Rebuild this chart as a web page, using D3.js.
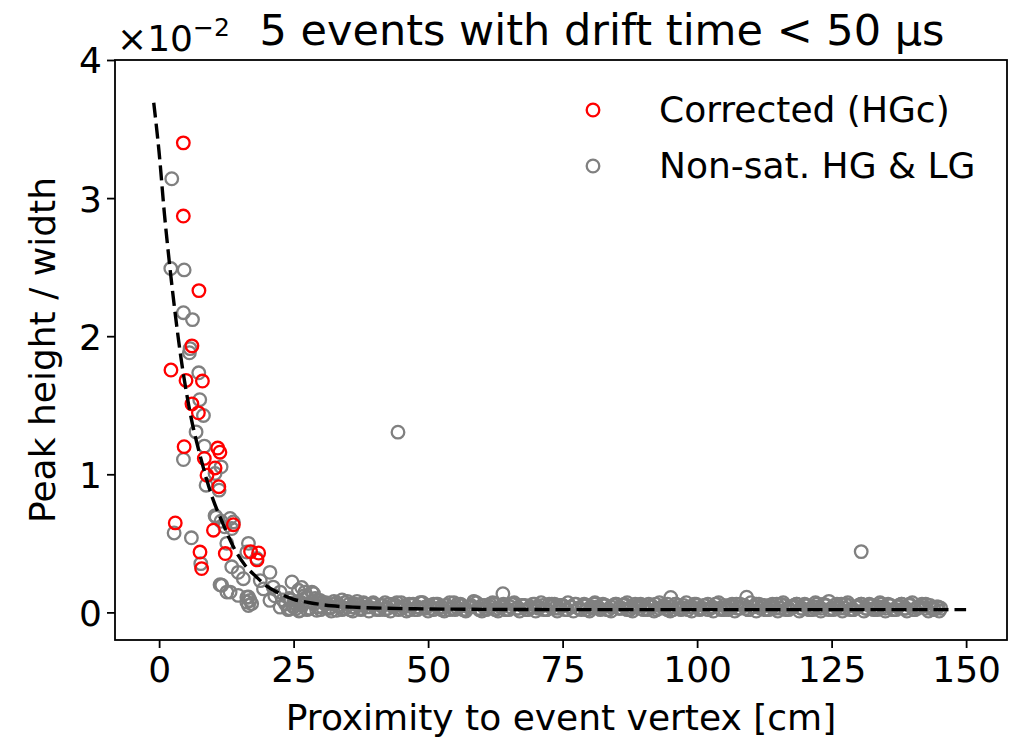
<!DOCTYPE html>
<html>
<head>
<meta charset="utf-8">
<script src="https://cdn.jsdelivr.net/npm/d3@7/dist/d3.min.js"></script>
<style>
  html, body { margin: 0; padding: 0; background: #fff; }
  svg { display: block; }
  text { font-family: "DejaVu Sans", sans-serif; fill: #000; }
</style>
</head>
<body>
<svg id="chart" width="1025" height="740"></svg>
<script>
// ---- data (y values in units of 1e-2) ----
const titleText = "5 events with drift time < 50 \u03bcs";
const xLabel = "Proximity to event vertex [cm]";
const yLabel = "Peak height / width";
const seriesNames = ["Corrected (HGc)", "Non-sat. HG & LG"];
const xTicks = [0, 25, 50, 75, 100, 125, 150];
const yTicks = [0, 1, 2, 3, 4];

const redX = [4.5, 4.5, 7.4, 6.1, 2.2, 8.05, 5.0, 6.1, 7.3, 4.65, 10.9, 11.3, 8.4, 10.4, 8.9, 11.1, 3.0, 10.1, 13.8, 7.6, 7.9, 12.3, 17.0, 18.2, 18.5];
const redY = [3.40, 2.87, 2.33, 1.93, 1.755, 1.675, 1.68, 1.51, 1.445, 1.20, 1.19, 1.16, 1.115, 1.046, 0.993, 0.91, 0.648, 0.595, 0.635, 0.437, 0.317, 0.426, 0.44, 0.38, 0.43];

const grayX = [2.35, 2.17, 4.65, 4.52, 6.2, 5.76, 5.63, 7.37, 7.55, 8.24, 6.87, 8.42, 4.52, 11.52, 10.4, 8.73, 11.15,
  2.79, 6.0, 10.4, 10.6, 11.5, 12.2, 13.2, 13.8, 13.5, 12.58, 16.6, 16.3, 18.15, 13.5, 14.7, 15.65, 7.75,
  11.33, 11.65, 12.6, 13.2, 14.7, 16.6, 16.3, 16.9, 16.6, 17.2, 16.3,
  20.6, 18.8, 19.4, 21.2, 22.5, 24.7, 26.5, 25.9, 27.1, 28.4, 28.7, 29.9, 20.6, 22.5, 24.3, 26.2, 29.3, 31.8, 33.0, 21.5, 23.0,
  44.4, 63.9, 95.1, 109.2, 130.5,
  23.5, 24.2, 25.0, 25.8, 26.6, 27.4, 28.0, 28.8, 29.5, 30.3, 31.0, 31.7, 32.5, 33.2, 34.0, 34.6, 35.3, 36.1, 36.8, 37.5,
  38.3, 39.0, 39.8, 40.5, 41.2, 42.0, 42.7, 43.5, 44.2, 45.0, 45.7, 46.5, 47.2, 48.0, 48.8, 49.5, 50.3, 51.0, 51.8, 52.5,
  53.3, 54.0, 54.8, 55.5, 56.3, 57.0, 57.8, 58.5, 59.3, 60.0, 60.8, 61.5, 62.3, 63.0, 63.8, 64.5, 65.3, 66.0, 66.8, 67.5,
  68.3, 69.0, 69.8, 70.5, 71.3, 72.0, 72.8, 73.5, 74.3, 75.0, 75.8, 76.5, 77.3, 78.0, 78.8, 79.5, 80.3, 81.0, 81.8, 82.5,
  83.3, 84.0, 84.8, 85.5, 86.3, 87.0, 87.8, 88.5, 89.3, 90.0, 90.8, 91.5, 92.3, 93.0, 93.8, 94.5, 95.3, 96.0, 96.8, 97.5,
  98.3, 99.0, 99.8, 100.5, 101.3, 102.0, 102.8, 103.5, 104.3, 105.0, 105.8, 106.5, 107.3, 108.0, 108.8, 109.5, 110.3, 111.0, 111.8, 112.5,
  113.3, 114.0, 114.8, 115.5, 116.3, 117.0, 117.8, 118.5, 119.3, 120.0, 120.8, 121.5, 122.3, 123.0, 123.8, 124.5, 125.3, 126.0, 126.8, 127.5,
  128.3, 129.0, 129.8, 130.5, 131.3, 132.0, 132.8, 133.5, 134.3, 135.0, 135.8, 136.5, 137.3, 138.0, 138.8, 139.5, 140.3, 141.0, 141.8, 142.5,
  143.3, 144.0, 144.8, 145.3];
const grayY = [3.14, 2.49, 2.48, 2.17, 2.12, 1.91, 1.88, 1.735, 1.54, 1.426, 1.307, 1.204, 1.107, 1.054, 1.006, 0.921, 0.885,
  0.575, 0.54, 0.70, 0.69, 0.66, 0.62, 0.68, 0.655, 0.607, 0.50, 0.50, 0.437, 0.39, 0.33, 0.29, 0.244, 0.353,
  0.20, 0.196, 0.147, 0.147, 0.123, 0.111, 0.11, 0.087, 0.05, 0.063, 0.075,
  0.29, 0.23, 0.17, 0.183, 0.147, 0.22, 0.18, 0.16, 0.147, 0.147, 0.136, 0.087, 0.087, 0.038, 0.027, 0.015, 0.015, 0.038, 0.015, 0.12, 0.09,
  1.305, 0.135, 0.108, 0.11, 0.44,
  0.06, 0.10, 0.04, 0.08, 0.05, 0.11, 0.03, 0.06, 0.09, 0.04, 0.07, 0.03, 0.08, 0.05, 0.09, 0.03, 0.06, 0.04, 0.08, 0.02,
  0.06, 0.04, 0.07, 0.03, 0.05, 0.02, 0.06, 0.04, 0.07, 0.03, 0.05, 0.02, 0.06, 0.04, 0.07, 0.03, 0.05, 0.02, 0.06, 0.04,
  0.05, 0.02, 0.07, 0.03, 0.05, 0.02, 0.04, 0.075, 0.03, 0.05, 0.02, 0.04, 0.06, 0.03, 0.05, 0.02, 0.04, 0.06, 0.03, 0.05,
  0.02, 0.04, 0.06, 0.03, 0.05, 0.02, 0.04, 0.06, 0.03, 0.05, 0.02, 0.04, 0.06, 0.03, 0.05, 0.02, 0.04, 0.06, 0.03, 0.05,
  0.02, 0.04, 0.06, 0.03, 0.05, 0.02, 0.04, 0.06, 0.03, 0.05, 0.02, 0.04, 0.06, 0.03, 0.05, 0.02, 0.04, 0.06, 0.03, 0.05,
  0.02, 0.04, 0.06, 0.03, 0.05, 0.02, 0.04, 0.06, 0.03, 0.05, 0.02, 0.04, 0.06, 0.03, 0.05, 0.02, 0.04, 0.06, 0.03, 0.05,
  0.02, 0.04, 0.06, 0.03, 0.05, 0.02, 0.04, 0.06, 0.03, 0.05, 0.02, 0.04, 0.06, 0.03, 0.05, 0.08, 0.02, 0.04, 0.06, 0.03,
  0.05, 0.02, 0.04, 0.06, 0.03, 0.05, 0.02, 0.04, 0.06, 0.03, 0.05, 0.02, 0.04, 0.06, 0.03, 0.05, 0.02, 0.04, 0.06, 0.03,
  0.05, 0.02, 0.04, 0.03];

// second and third staggered rows of the dense low band
const band2X = [24, 25, 26, 27, 28, 29, 30, 31, 32, 33, 34, 35, 36, 37, 38, 39, 40, 41, 42, 43,
  44, 45, 46, 47, 48, 49, 50, 51, 52, 53, 54, 55, 56, 57, 58, 59, 60, 61, 62, 63,
  64, 65, 66, 67, 68, 69, 70, 71, 72, 73, 74, 75, 76, 77, 78, 79, 80, 81, 82, 83,
  84, 85, 86, 87, 88, 89, 90, 91, 92, 93, 94, 95, 96, 97, 98, 99, 100, 101, 102, 103,
  104, 105, 106, 107, 108, 109, 110, 111, 112, 113, 114, 115, 116, 117, 118, 119, 120, 121, 122, 123,
  124, 125, 126, 127, 128, 129, 130, 131, 132, 133, 134, 135, 136, 137, 138, 139, 140, 141, 142, 143,
  144, 145];
const band2Y = [0.02, 0.07, 0.01, 0.12, 0.03, 0.10, 0.02, 0.06, 0.01, 0.07, 0.02, 0.08, 0.01, 0.05, 0.07, 0.01, 0.06, 0.02, 0.07, 0.01,
  0.05, 0.07, 0.01, 0.05, 0.02, 0.07, 0.01, 0.06, 0.03, 0.01, 0.07, 0.02, 0.06, 0.01, 0.05, 0.07, 0.01, 0.03, 0.07, 0.01,
  0.06, 0.02, 0.07, 0.01, 0.05, 0.03, 0.01, 0.07, 0.02, 0.06, 0.01, 0.05, 0.07, 0.01, 0.03, 0.06, 0.01, 0.07, 0.02, 0.05,
  0.01, 0.06, 0.03, 0.07, 0.01, 0.05, 0.02, 0.06, 0.01, 0.07, 0.03, 0.01, 0.06, 0.02, 0.07, 0.01, 0.05, 0.03, 0.06, 0.01,
  0.07, 0.02, 0.05, 0.01, 0.06, 0.03, 0.07, 0.01, 0.05, 0.02, 0.06, 0.01, 0.07, 0.03, 0.05, 0.01, 0.06, 0.02, 0.07, 0.01,
  0.05, 0.03, 0.06, 0.01, 0.07, 0.02, 0.05, 0.01, 0.06, 0.03, 0.07, 0.01, 0.05, 0.02, 0.06, 0.01, 0.07, 0.03, 0.05, 0.01,
  0.03, 0.01];
const band3X = [24.5, 25.5, 26.5, 27.5, 28.5, 29.5, 30.5, 31.5, 32.5, 33.5, 34.5, 35.5, 36.5, 37.5, 38.5, 39.5, 40.5, 41.5, 42.5, 43.5,
  44.5, 45.5, 46.5, 47.5, 48.5, 49.5, 50.5, 51.5, 52.5, 53.5, 54.5, 55.5, 56.5, 57.5, 58.5, 59.5, 60.5, 61.5, 62.5, 63.5,
  64.5, 65.5, 66.5, 67.5, 68.5, 69.5, 70.5, 71.5, 72.5, 73.5, 74.5, 75.5, 76.5, 77.5, 78.5, 79.5, 80.5, 81.5, 82.5, 83.5,
  84.5, 85.5, 86.5, 87.5, 88.5, 89.5, 90.5, 91.5, 92.5, 93.5, 94.5, 95.5, 96.5, 97.5, 98.5, 99.5, 100.5, 101.5, 102.5, 103.5,
  104.5, 105.5, 106.5, 107.5, 108.5, 109.5, 110.5, 111.5, 112.5, 113.5, 114.5, 115.5, 116.5, 117.5, 118.5, 119.5, 120.5, 121.5, 122.5, 123.5,
  124.5, 125.5, 126.5, 127.5, 128.5, 129.5, 130.5, 131.5, 132.5, 133.5, 134.5, 135.5, 136.5, 137.5, 138.5, 139.5, 140.5, 141.5, 142.5, 143.5,
  144.5];
const band3Y = [0.09, 0.03, 0.07, 0.02, 0.08, 0.04, 0.07, 0.03, 0.06, 0.04, 0.07, 0.02, 0.06, 0.03, 0.04, 0.06, 0.02, 0.05, 0.03, 0.06,
  0.02, 0.04, 0.06, 0.02, 0.07, 0.04, 0.03, 0.06, 0.02, 0.05, 0.03, 0.06, 0.02, 0.04, 0.08, 0.02, 0.05, 0.06, 0.02, 0.04,
  0.02, 0.06, 0.03, 0.05, 0.02, 0.06, 0.04, 0.02, 0.06, 0.03, 0.05, 0.02, 0.04, 0.06, 0.02, 0.05, 0.03, 0.04, 0.06, 0.02,
  0.05, 0.03, 0.06, 0.02, 0.04, 0.06, 0.03, 0.05, 0.02, 0.04, 0.06, 0.02, 0.05, 0.03, 0.04, 0.06, 0.02, 0.05, 0.03, 0.06,
  0.02, 0.04, 0.06, 0.03, 0.05, 0.02, 0.04, 0.06, 0.02, 0.05, 0.03, 0.06, 0.02, 0.04, 0.06, 0.03, 0.05, 0.02, 0.04, 0.06,
  0.02, 0.05, 0.03, 0.06, 0.02, 0.04, 0.06, 0.03, 0.05, 0.02, 0.04, 0.06, 0.02, 0.05, 0.03, 0.06, 0.02, 0.04, 0.06, 0.03,
  0.04];

const fitX = [-1, 0, 1, 2, 3, 4, 5, 6, 7, 8, 9, 10, 11, 12, 13, 14, 16, 18, 20, 22, 25, 28, 32, 36, 40, 50, 60, 80, 100, 125, 150];
const fitY = [3.69, 3.33, 2.88, 2.50, 2.16, 1.86, 1.61, 1.40, 1.23, 1.08, 0.94, 0.82, 0.72, 0.63, 0.54, 0.46, 0.34, 0.26, 0.19, 0.145, 0.095, 0.07, 0.048, 0.038, 0.032, 0.025, 0.022, 0.02, 0.02, 0.02, 0.02];

// ---- layout ----
const svg = d3.select("#chart");
const L = 115, R = 1007, T = 60, B = 640;
const x = d3.scaleLinear().domain([-8.2, 157.6]).range([L, R]);
const y = d3.scaleLinear().domain([-0.2, 4.0]).range([B, T]);
const fs = 36;
const mr = 6.3, mw = 2.3;

svg.append("rect").attr("width", 1025).attr("height", 740).attr("fill", "#fff");

svg.append("clipPath").attr("id", "clip")
  .append("rect").attr("x", L).attr("y", T).attr("width", R - L).attr("height", B - T);

const plot = svg.append("g").attr("clip-path", "url(#clip)");

const grayPts = grayX.map((v, i) => [v, grayY[i]])
  .concat(band2X.map((v, i) => [v, band2Y[i]]))
  .concat(band3X.map((v, i) => [v, band3Y[i]]));
const redPts = redX.map((v, i) => [v, redY[i]]);

plot.selectAll("circle.gray").data(grayPts).enter().append("circle")
  .attr("class", "gray")
  .attr("cx", d => x(d[0])).attr("cy", d => y(d[1])).attr("r", mr)
  .attr("fill", "none").attr("stroke", "#808080").attr("stroke-width", mw);

plot.selectAll("circle.red").data(redPts).enter().append("circle")
  .attr("class", "red")
  .attr("cx", d => x(d[0])).attr("cy", d => y(d[1])).attr("r", mr)
  .attr("fill", "none").attr("stroke", "#ff0000").attr("stroke-width", mw);

const line = d3.line().x(d => x(d[0])).y(d => y(d[1])).curve(d3.curveMonotoneX);
plot.append("path").datum(fitX.map((v, i) => [v, fitY[i]]))
  .attr("d", line).attr("fill", "none").attr("stroke", "#000")
  .attr("stroke-width", 3.4).attr("stroke-dasharray", "15,6");

// ---- axes ----
const xAxis = d3.axisBottom(x).tickValues(xTicks).tickSize(8).tickPadding(6).tickFormat(d3.format("d"));
const gx = svg.append("g").attr("transform", `translate(0,${B})`).call(xAxis);
gx.select(".domain").remove();
gx.selectAll("line").attr("stroke", "#000").attr("stroke-width", 1.8);
gx.selectAll("text").attr("font-size", fs).attr("font-family", "DejaVu Sans").attr("dy", null).attr("y", 42);

const yAxis = d3.axisLeft(y).tickValues(yTicks).tickSize(8).tickPadding(6).tickFormat(d3.format("d"));
const gy = svg.append("g").attr("transform", `translate(${L},0)`).call(yAxis);
gy.select(".domain").remove();
gy.selectAll("line").attr("stroke", "#000").attr("stroke-width", 1.8);
gy.selectAll("text").attr("font-size", fs).attr("font-family", "DejaVu Sans").attr("x", -13).attr("dy", "0.36em");

svg.append("rect").attr("x", L).attr("y", T).attr("width", R - L).attr("height", B - T)
  .attr("fill", "none").attr("stroke", "#000").attr("stroke-width", 1.8);

// offset text
const off = svg.append("text").attr("x", 117).attr("y", 51).attr("font-size", fs);
off.append("tspan").text("\u00d710");
off.append("tspan").attr("font-size", 25).attr("dy", -15).text("\u22122");

// title
svg.append("text").attr("x", 602).attr("y", 45).attr("text-anchor", "middle")
  .attr("font-size", 43).text(titleText);

// axis labels
svg.append("text").attr("x", (L + R) / 2).attr("y", 730).attr("text-anchor", "middle")
  .attr("font-size", fs).text(xLabel);
svg.append("text").attr("transform", `translate(55,${(T + B) / 2}) rotate(-90)`)
  .attr("text-anchor", "middle").attr("font-size", fs).text(yLabel);

// legend
const legColors = ["#ff0000", "#808080"];
const leg = svg.append("g");
seriesNames.forEach((name, i) => {
  const cy = 110 + i * 56;
  leg.append("circle").attr("cx", 593).attr("cy", cy).attr("r", mr)
    .attr("fill", "none").attr("stroke", legColors[i]).attr("stroke-width", mw);
  leg.append("text").attr("x", 659).attr("y", cy + 12).attr("font-size", fs).text(name);
});
</script>
</body>
</html>
